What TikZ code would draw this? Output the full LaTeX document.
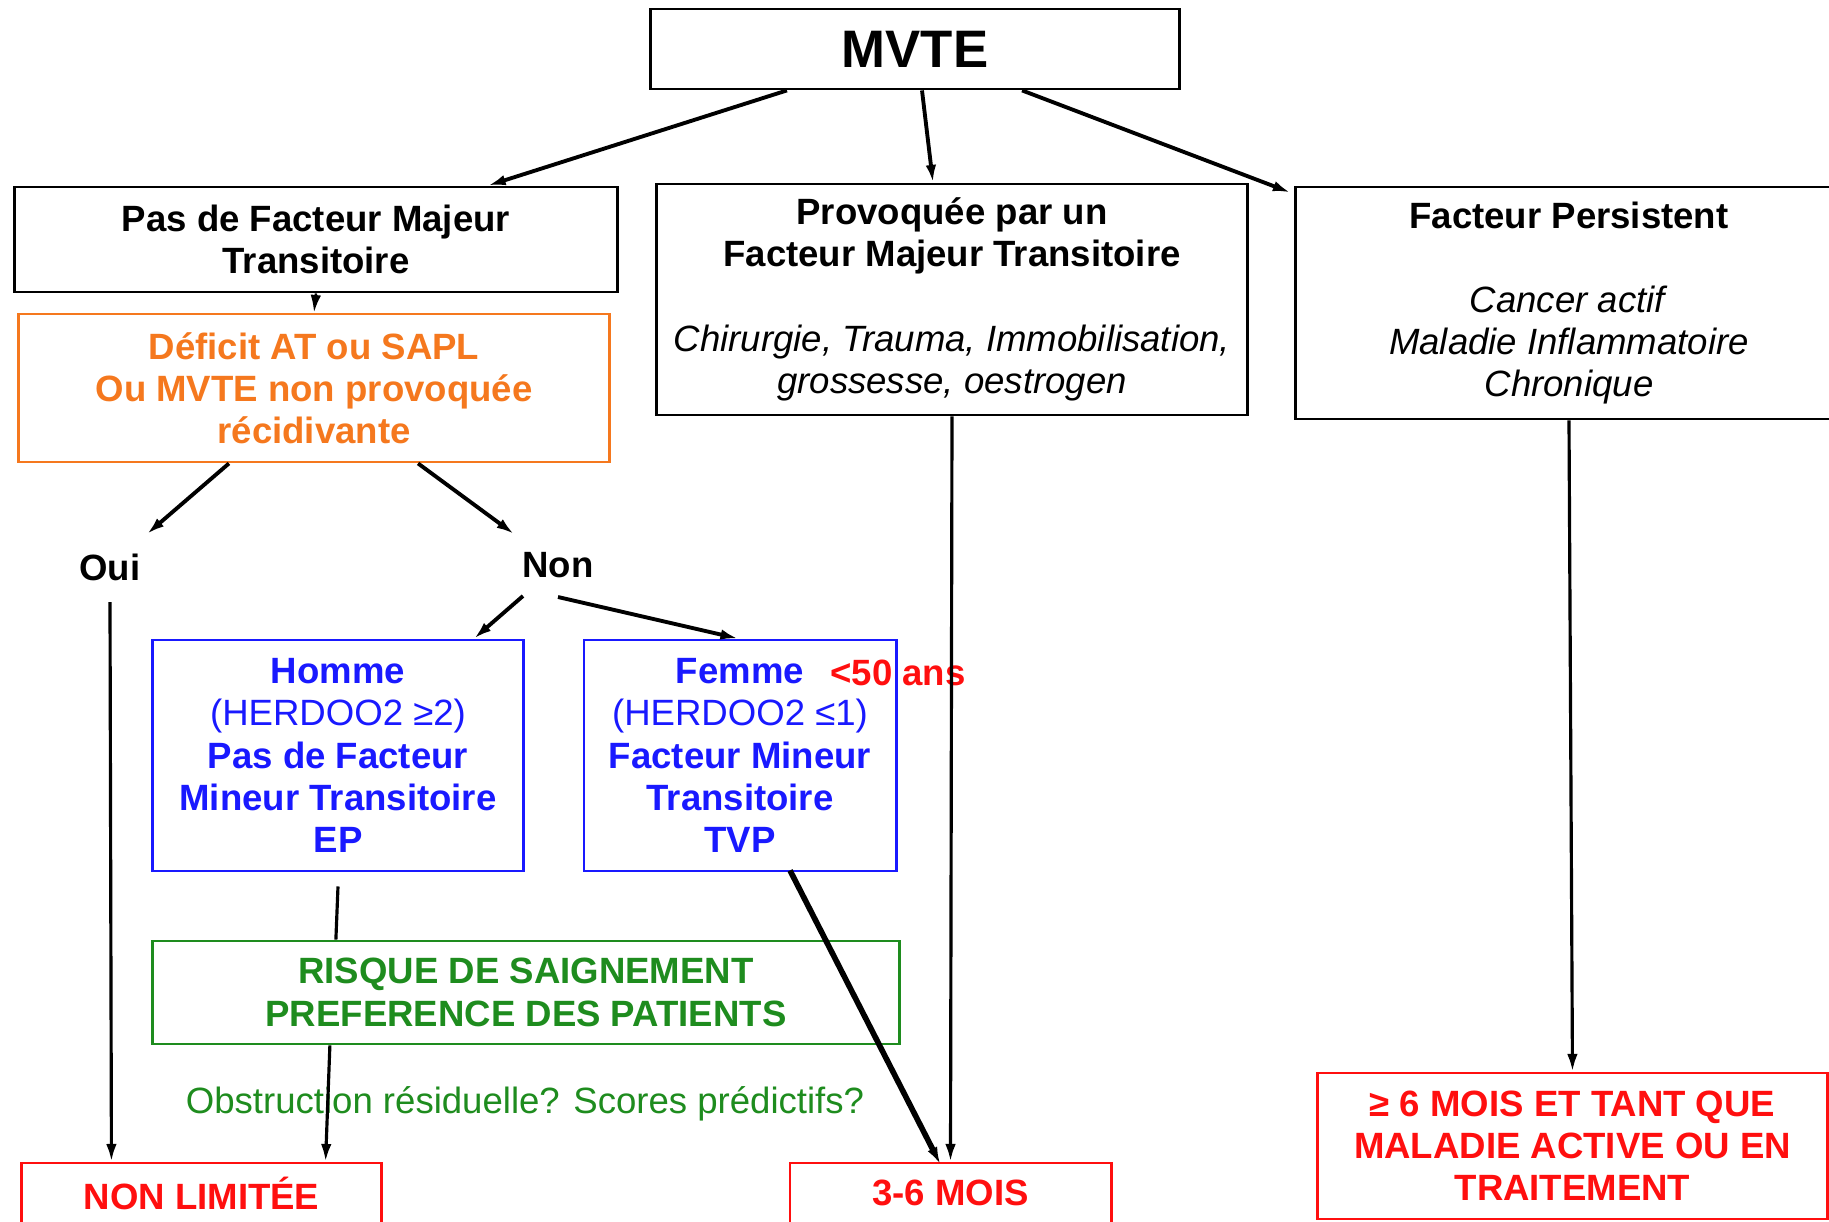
\documentclass[tikz,border=0pt]{standalone}
\usepackage{fontspec}
\setmainfont{Liberation Sans}
\usetikzlibrary{arrows.meta}
\definecolor{orangebox}{RGB}{245,120,30}
\definecolor{bluebox}{RGB}{25,25,255}
\definecolor{greenbox}{RGB}{30,140,30}
\definecolor{redbox}{RGB}{255,15,15}
\tikzset{arrow/.style={-{Latex[length=5pt,width=3pt]}, line width=1.1pt}}
\tikzset{thin-arrow/.style={-{Latex[length=5pt,width=3pt]}, line width=0.7pt}}
\tikzset{box/.style={draw, line width=0.8pt, align=center, inner sep=0pt, font=\fontsize{10.4}{12}\selectfont}}
\tikzset{label-text/.style={align=center, inner sep=1pt, font=\fontsize{10.4}{12}\selectfont}}

\begin{document}
\begin{tikzpicture}[x=0.01cm, y=-0.01cm]
      \useasboundingbox[fill=white] (0,0) rectangle (1829,1222);

      \node[box, minimum width=5.28cm, minimum height=0.8cm, font=\fontsize{15}{18}\selectfont\bfseries] (mvte) at (915,49) {MVTE};

      \node[box, minimum width=6.02cm, minimum height=1.05cm] (b1) at (316,239.5)
        {\textbf{Pas de Facteur Majeur}\\\textbf{Transitoire}};
      \node[box, minimum width=5.90cm, minimum height=2.31cm] (b2) at (952,299.5)
        {\textbf{Provoquée par un}\\\textbf{Facteur Majeur Transitoire}\\[12pt]
         \textit{Chirurgie, Trauma, Immobilisation,}\\\textit{grossesse, oestrogen}};
      \node[box, minimum width=5.46cm, minimum height=2.32cm] (b3) at (1569,303)
        {\textbf{Facteur Persistent}\\[12pt]
         \textit{Cancer actif}\\\textit{Maladie Inflammatoire}\\\textit{Chronique}};

      \node[box, draw=orangebox, text=orangebox, minimum width=5.90cm, minimum height=1.48cm] (orange) at (314,388)
        {\textbf{Déficit AT ou SAPL}\\\textbf{Ou MVTE non provoquée}\\\textbf{récidivante}};

      \node[label-text] (oui) at (110,567) {\textbf{Oui}};
      \node[label-text] (non) at (558,565) {\textbf{Non}};

      \node[box, draw=bluebox, text=bluebox, minimum width=3.70cm, minimum height=2.31cm] (homme) at (338,755.5)
        {\textbf{Homme}\\(HERDOO2 ≥2)\\\textbf{Pas de Facteur}\\\textbf{Mineur Transitoire}\\\textbf{EP}};
      \node[box, draw=bluebox, text=bluebox, minimum width=3.12cm, minimum height=2.31cm] (femme) at (740,755.5)
        {\textbf{Femme}\\(HERDOO2 ≤1)\\\textbf{Facteur Mineur}\\\textbf{Transitoire}\\\textbf{TVP}};
      \node[label-text, text=redbox] (age) at (898,673) {\textbf{<50 ans}};

      \node[box, draw=greenbox, text=greenbox, minimum width=7.46cm, minimum height=1.03cm] (green) at (526,992.5)
        {\textbf{RISQUE DE SAIGNEMENT}\\\textbf{PREFERENCE DES PATIENTS}};
      \node[label-text, text=greenbox] (obstr) at (525,1104) {Obstruction résiduelle? Scores prédictifs?};

      \node[box, draw=redbox, text=redbox, minimum width=3.59cm, minimum height=0.60cm] (nonlim) at (201.5,1193) {\textbf{NON LIMITÉE}};
      \node[box, draw=redbox, text=redbox, minimum width=3.21cm, minimum height=0.60cm] (mois36) at (950.5,1193) {\textbf{3-6 MOIS}};
      \node[box, draw=redbox, text=redbox, minimum width=5.09cm, minimum height=1.46cm] (six) at (1572.5,1146)
        {\textbf{≥ 6 MOIS ET TANT QUE}\\\textbf{MALADIE ACTIVE OU EN}\\\textbf{TRAITEMENT}};

      \draw[arrow] ([xshift=-1.28cm]mvte.south) -- ([xshift=1.72cm]b1.north);
      \draw[arrow] ([xshift=0.07cm]mvte.south) -- ([xshift=-0.19cm]b2.north);
      \draw[arrow] ([xshift=1.07cm]mvte.south) -- ([xshift=-0.04cm,yshift=-0.07cm]b3.north west);
      \draw[thin-arrow] (b1.south) -- (orange.north);

      \draw[arrow] ([xshift=-0.85cm]orange.south) -- ([xshift=0.37cm,yshift=0.33cm]oui.center);
      \draw[arrow] ([xshift=1.04cm]orange.south) -- ([xshift=-0.44cm,yshift=0.31cm]non.center);
      \draw[arrow] ([xshift=-0.35cm,yshift=-0.31cm]non.center) -- ([xshift=1.36cm]homme.north);
      \draw[arrow] ([yshift=-0.32cm]non.center) -- ([xshift=-0.02cm]femme.north);

      \draw[thin-arrow, line width=0.9pt] ([yshift=-0.35cm]oui.center) -- ([xshift=-0.9cm]nonlim.north);
      \draw[line width=0.9pt] ([yshift=-0.14cm]homme.south) -- ([xshift=-1.9cm]green.north);
      \draw[thin-arrow, line width=0.9pt] ([xshift=-1.96cm]green.south) -- ([xshift=1.24cm]nonlim.north);
      \draw[arrow, line width=1.6pt] ([xshift=0.5cm,yshift=0.02cm]femme.south) -- ([xshift=-0.1cm,yshift=-0.03cm]mois36.north);
      \draw[thin-arrow, line width=0.9pt] (b2.south) -- (mois36.north);
      \draw[thin-arrow, line width=0.9pt] (b3.south) -- (six.north);
    \end{tikzpicture}
\end{document}
